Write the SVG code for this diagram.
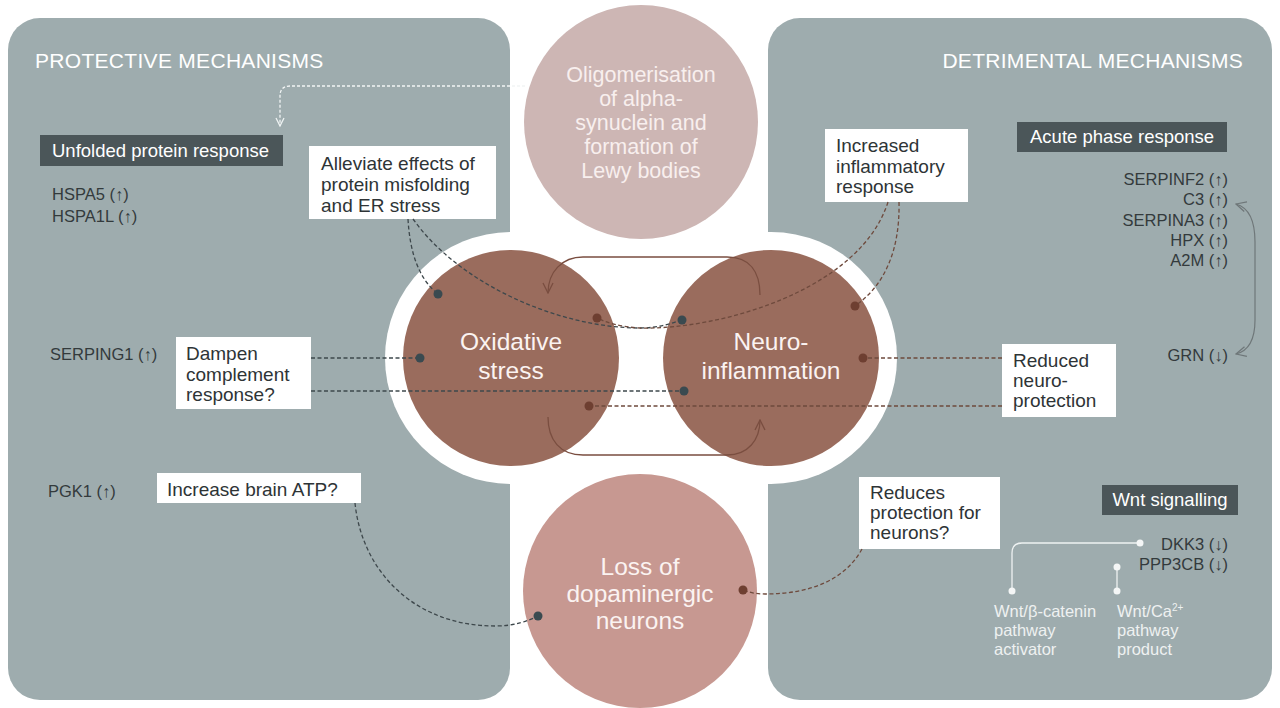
<svg xmlns="http://www.w3.org/2000/svg" width="1280" height="708" viewBox="0 0 1280 708">
<style>
text{font-family:"Liberation Sans",Arial,sans-serif}
.hdr{font-size:21px;fill:#ffffff;letter-spacing:0.3px}
.gene{font-size:16.5px;fill:#333a3c}
.box{fill:#ffffff}
.bt{font-size:19px;fill:#2e3436}
.dbox{fill:#4b5659}
.dt{font-size:18.5px;fill:#ffffff}
.ct{font-size:24.5px;fill:#fbf3f1;text-anchor:middle}
.tt{font-size:21.5px;fill:#f8efee;text-anchor:middle}
.wt{font-size:16.5px;fill:#eef1f1}
.dd{fill:none;stroke:#3e484c;stroke-width:1.3;stroke-dasharray:4 2.5}
.bd{fill:none;stroke:#6e4a3d;stroke-width:1.3;stroke-dasharray:4 2.5}
.dkdot{fill:#3a4a50}
.brdot{fill:#6e3f31}
.loop{fill:none;stroke:#7a4e40;stroke-width:1.3}
.wl{fill:none;stroke:#eef2f2;stroke-width:1.3}
.wdot{fill:#f4f6f6}
</style>
<defs>
<marker id="chw" viewBox="0 0 10 10" refX="9" refY="5" markerWidth="10" markerHeight="10" markerUnits="userSpaceOnUse" orient="auto"><path d="M1,1 L9,5 L1,9" fill="none" stroke="#eef2f2" stroke-width="1.3"/></marker>
<marker id="chb" viewBox="0 0 12 12" refX="11" refY="6" markerWidth="12" markerHeight="12" markerUnits="userSpaceOnUse" orient="auto"><path d="M1,1 L11,6 L1,11" fill="none" stroke="#7a4e40" stroke-width="1.3"/></marker>
<marker id="chg" viewBox="0 0 12 12" refX="11" refY="6" markerWidth="12" markerHeight="12" markerUnits="userSpaceOnUse" orient="auto-start-reverse"><path d="M1,1 L11,6 L1,11" fill="none" stroke="#6f7779" stroke-width="1.2"/></marker>
</defs>
<rect width="1280" height="708" fill="#ffffff"/>

<g id="panel-protective">
<rect x="8" y="18" width="502" height="682" rx="32" fill="#9eacae"/>
<text class="hdr" x="35" y="68">PROTECTIVE MECHANISMS</text>
</g>
<g id="panel-detrimental">
<rect x="768" y="18" width="504" height="682" rx="32" fill="#9eacae"/>
<text class="hdr" x="1243" y="68" text-anchor="end">DETRIMENTAL MECHANISMS</text>
</g>

<g id="center-backdrop">
<rect x="385" y="232" width="512" height="252" rx="126" fill="#ffffff"/>
</g>

<g id="node-oligomerisation">
<circle cx="641" cy="122" r="117" fill="#cdb6b4"/>
<text class="tt" x="641" y="82">Oligomerisation</text>
<text class="tt" x="641" y="106">of alpha-</text>
<text class="tt" x="641" y="130">synuclein and</text>
<text class="tt" x="641" y="154">formation of</text>
<text class="tt" x="641" y="178">Lewy bodies</text>
</g>

<g id="node-oxidative">
<circle cx="511" cy="358" r="108" fill="#9a6c5d"/>
<text class="ct" x="511" y="350">Oxidative</text>
<text class="ct" x="511" y="379">stress</text>
</g>
<g id="node-neuroinflammation">
<circle cx="771" cy="358" r="108" fill="#9a6c5d"/>
<text class="ct" x="771" y="350">Neuro-</text>
<text class="ct" x="771" y="379">inflammation</text>
</g>

<g id="node-loss">
<circle cx="640" cy="591" r="117" fill="#c79891"/>
<text class="ct" x="640" y="575">Loss of</text>
<text class="ct" x="640" y="602">dopaminergic</text>
<text class="ct" x="640" y="629">neurons</text>
</g>

<g id="node-upr">
<rect class="dbox" x="40" y="135" width="243" height="31"/>
<text class="dt" x="52" y="157">Unfolded protein response</text>
<text class="gene" x="52" y="200">HSPA5 (↑)</text>
<text class="gene" x="52" y="222">HSPA1L (↑)</text>
</g>
<g id="node-alleviate">
<rect class="box" x="309" y="146" width="187" height="73"/>
<text class="bt" x="321" y="170">Alleviate effects of</text>
<text class="bt" x="321" y="191">protein misfolding</text>
<text class="bt" x="321" y="212">and ER stress</text>
</g>
<g id="node-serping1">
<text class="gene" x="50" y="360">SERPING1 (↑)</text>
</g>
<g id="node-dampen">
<rect class="box" x="176" y="337" width="135" height="72"/>
<text class="bt" x="186" y="360">Dampen</text>
<text class="bt" x="186" y="381">complement</text>
<text class="bt" x="186" y="401">response?</text>
</g>
<g id="node-pgk1">
<text class="gene" x="48" y="497">PGK1 (↑)</text>
</g>
<g id="node-atp">
<rect class="box" x="157" y="473" width="204" height="30"/>
<text class="bt" x="167" y="496">Increase brain ATP?</text>
</g>

<g id="node-increased">
<rect class="box" x="825" y="129" width="143" height="73"/>
<text class="bt" x="836" y="152">Increased</text>
<text class="bt" x="836" y="173">inflammatory</text>
<text class="bt" x="836" y="193">response</text>
</g>
<g id="node-acute">
<rect class="dbox" x="1017" y="122" width="210" height="30"/>
<text class="dt" x="1030" y="143">Acute phase response</text>
<g text-anchor="end">
<text class="gene" x="1228" y="185">SERPINF2 (↑)</text>
<text class="gene" x="1228" y="205">C3 (↑)</text>
<text class="gene" x="1228" y="226">SERPINA3 (↑)</text>
<text class="gene" x="1228" y="246">HPX (↑)</text>
<text class="gene" x="1228" y="266">A2M (↑)</text>
<text class="gene" x="1228" y="361">GRN (↓)</text>
</g>
</g>
<g id="node-reduced">
<rect class="box" x="1002" y="344" width="114" height="73"/>
<text class="bt" x="1013" y="367">Reduced</text>
<text class="bt" x="1013" y="387">neuro-</text>
<text class="bt" x="1013" y="407">protection</text>
</g>
<g id="node-reduces">
<rect class="box" x="859" y="477" width="141" height="72"/>
<text class="bt" x="870" y="499">Reduces</text>
<text class="bt" x="870" y="519">protection for</text>
<text class="bt" x="870" y="539">neurons?</text>
</g>
<g id="node-wnt">
<rect class="dbox" x="1102" y="485" width="136" height="30"/>
<text class="dt" x="1170" y="506" text-anchor="middle">Wnt signalling</text>
<g text-anchor="end">
<text class="gene" x="1228" y="550">DKK3 (↓)</text>
<text class="gene" x="1228" y="570">PPP3CB (↓)</text>
</g>
<text class="wt" x="994" y="617">Wnt/β-catenin</text>
<text class="wt" x="994" y="636">pathway</text>
<text class="wt" x="994" y="655">activator</text>
<text class="wt" x="1117" y="617">Wnt/Ca<tspan font-size="10" dy="-6">2+</tspan></text>
<text class="wt" x="1117" y="636">pathway</text>
<text class="wt" x="1117" y="655">product</text>
</g>

<g id="connectors">
<path d="M525,86 L290,86 Q280,86 280,96 L280,126" fill="none" stroke="#f2f5f5" stroke-width="1.3" stroke-dasharray="3 2" marker-end="url(#chw)"/>
<path class="loop" d="M760,295 C760,272 750,257 727,257 L583,257 C562,257 548,272 548,293" marker-end="url(#chb)"/>
<path class="loop" d="M548,417 C548,440 560,455 583,455 L727,455 C748,455 760,440 760,420" marker-end="url(#chb)"/>
<path class="dd" d="M408,219 C410,255 420,280 438,294"/>
<path class="dd" d="M413,219 C460,285 560,328 640,328 C660,328 672,323 682,320"/>
<path class="bd" d="M888,202 C860,290 720,330 640,328 C620,327 605,322 597,318"/>
<path class="bd" d="M899,202 C900,250 885,285 855,306"/>
<path class="dd" d="M311,358 L420,358"/>
<path class="dd" d="M311,391 L684,391"/>
<path class="bd" d="M1002,358 L863,358"/>
<path class="bd" d="M1002,406 L589,406"/>
<path class="dd" d="M355,503 C362,572 415,626 495,626 C515,626 528,621 538,616"/>
<path class="bd" d="M862,549 C845,580 810,594 765,594 C755,594 748,592 743,590"/>
<path d="M1236,204 C1250,208 1255,222 1255,242 L1255,320 C1255,340 1248,351 1236,354" fill="none" stroke="#6f7779" stroke-width="1.2" marker-start="url(#chg)" marker-end="url(#chg)"/>
<path class="wl" d="M1140,543 L1022,543 Q1012,543 1012,553 L1012,591"/>
<path class="wl" d="M1117,567 L1117,591"/>
<circle class="wdot" cx="1140" cy="543" r="3.5"/>
<circle class="wdot" cx="1012" cy="591" r="3.5"/>
<circle class="wdot" cx="1117" cy="567" r="3.5"/>
<circle class="wdot" cx="1117" cy="591" r="3.5"/>
<circle class="dkdot" cx="438" cy="294" r="4.5"/>
<circle class="dkdot" cx="682" cy="320" r="4.5"/>
<circle class="brdot" cx="597" cy="318" r="4.5"/>
<circle class="brdot" cx="855" cy="306" r="4.5"/>
<circle class="dkdot" cx="420" cy="358" r="4.5"/>
<circle class="dkdot" cx="684" cy="391" r="4.5"/>
<circle class="brdot" cx="863" cy="358" r="4.5"/>
<circle class="brdot" cx="589" cy="406" r="4.5"/>
<circle class="dkdot" cx="538" cy="616" r="4.5"/>
<circle class="brdot" cx="743" cy="590" r="4.5"/>
</g>
</svg>
